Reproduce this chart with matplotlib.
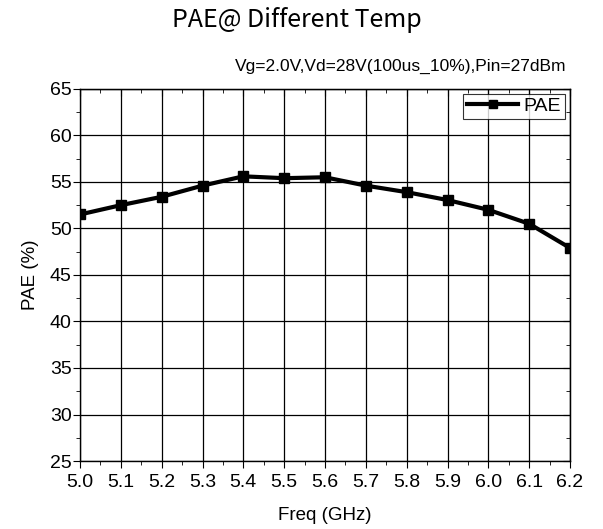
import numpy as np
import matplotlib.pyplot as plt
from matplotlib.ticker import MultipleLocator, NullFormatter

# 数据 ***********************************************************************
freq = [5.0, 5.1, 5.2, 5.3, 5.4, 5.5, 5.6, 5.7, 5.8, 5.9, 6.0, 6.1, 6.2]
pae = [51.5, 52.5, 53.4, 54.6, 55.6, 55.4, 55.5, 54.6, 53.9, 53.05, 52.0, 50.5, 47.9]
x_ticks = [5.0, 5.1, 5.2, 5.3, 5.4, 5.5, 5.6, 5.7, 5.8, 5.9, 6.0, 6.1, 6.2]
y_ticks = [25, 30, 35, 40, 45, 50, 55, 60, 65]

plt.rcParams['font.family'] = ['Liberation Sans', 'DejaVu Sans']

fig = plt.figure(figsize=(6.03, 5.29), dpi=100)
ax = fig.add_axes([0.1327, 0.1285, 0.8126, 0.7035])

ax.plot(freq, pae, c="black", lw=3, marker="s", ms=6.5, label="PAE")

ax.set_xlim(5.0, 6.2)
ax.set_ylim(25, 65)
ax.set_xticks(x_ticks)
ax.set_xticklabels(["%.1f" % v for v in x_ticks])
ax.set_yticks(y_ticks)
ax.xaxis.set_minor_locator(MultipleLocator(0.05))
ax.yaxis.set_minor_locator(MultipleLocator(2.5))
ax.grid(True, which="major", color="black", lw=0.9)
ax.tick_params(axis="x", which="both", direction="out", labelsize=14, pad=4)
ax.tick_params(axis="y", which="both", direction="out", labelsize=14, pad=1)
ax.tick_params(which="major", length=5)
ax.tick_params(which="minor", length=3)
for s in ax.spines.values():
    s.set_linewidth(1.0)

# 上边和右边的刻度朝里
top = ax.secondary_xaxis("top")
top.set_xticks(x_ticks)
top.xaxis.set_minor_locator(MultipleLocator(0.05))
top.xaxis.set_major_formatter(NullFormatter())
top.tick_params(which="both", direction="in")
top.tick_params(which="major", length=5)
top.tick_params(which="minor", length=3)
right = ax.secondary_yaxis("right")
right.set_yticks(y_ticks)
right.yaxis.set_minor_locator(MultipleLocator(2.5))
right.yaxis.set_major_formatter(NullFormatter())
right.tick_params(which="both", direction="in")
right.tick_params(which="major", length=5)
right.tick_params(which="minor", length=3)

ax.set_xlabel("Freq (GHz)", fontsize=13.5, labelpad=12)
ax.set_ylabel("PAE (%)", fontsize=13.5, labelpad=8)

leg = ax.legend(loc="upper right", fontsize=14, frameon=True, fancybox=False,
                edgecolor="black", handlelength=2.6, borderpad=0.2, handletextpad=0.3,
                borderaxespad=0.25, markerscale=0.8)
leg.get_frame().set_linewidth(0.8)

fig.text(0.492, 0.962, "PAE@ Different Temp", ha="center", va="center",
         fontsize=18, family=["Noto Sans CJK SC", "DejaVu Sans"])
fig.text(0.664, 0.875, "Vg=2.0V,Vd=28V(100us_10%),Pin=27dBm", ha="center", va="center",
         fontsize=12.5)

fig.savefig("out.png", dpi=100)
